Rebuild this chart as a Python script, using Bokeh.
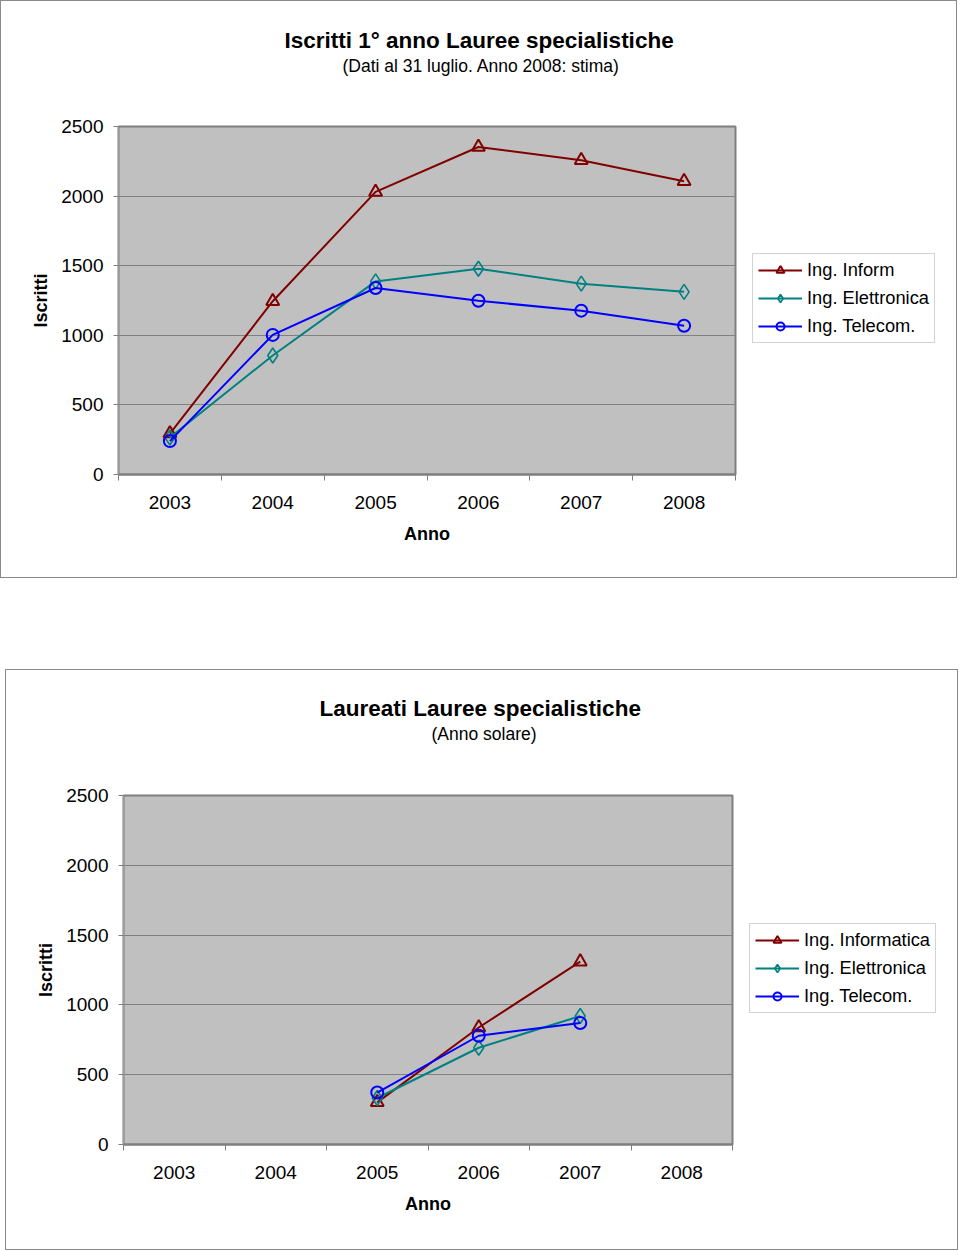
from bokeh.plotting import figure
from bokeh.models import Range1d, FixedTicker, Spacer, Title, Legend
from bokeh.layouts import column, row
from bokeh.embed import file_html
from bokeh.resources import INLINE

# ---------------- data ----------------
years = [2003, 2004, 2005, 2006, 2007, 2008]
y_ticks = [0, 500, 1000, 1500, 2000, 2500]

series_names_1 = ["Ing. Inform", "Ing. Elettronica", "Ing. Telecom."]
iscritti_inform = [294, 1245, 2030, 2353, 2258, 2106]
iscritti_elettronica = [266, 855, 1387, 1478, 1371, 1312]
iscritti_telecom = [240, 1003, 1340, 1248, 1177, 1069]

nan = float("nan")
series_names_2 = ["Ing. Informatica", "Ing. Elettronica", "Ing. Telecom."]
laureati_inform = [nan, nan, 302, 838, 1310, nan]
laureati_elettronica = [nan, nan, 333, 693, 920, nan]
laureati_telecom = [nan, nan, 372, 779, 870, nan]

title_1 = "Iscritti 1° anno Lauree specialistiche"
subtitle_1 = "(Dati al 31 luglio. Anno 2008: stima)"
title_2 = "Laureati  Lauree specialistiche"
subtitle_2 = "(Anno solare)"
x_label = "Anno"
y_label = "Iscritti"

colors = ["#800000", "#008080", "#0000ff"]
markers = ["triangle", "diamond", "circle"]
marker_sizes = [13, 15, 12]
marker_widths = [2, 1.6, 2]

FONT = "Liberation Sans"


def make_chart(title, subtitle, names, values, box, frame, title_left, subtitle_left,
               spacer_h, legend_px):
    # box: (x, y, w, h) of the outer bordered box in page px; frame: (L, R, T, B) page px
    bx, by, bw, bh = box
    L, R, T, B = frame
    ox, oy = bx + 1, by + 1          # content origin inside 1px border
    cw, ch = bw - 2, bh - 2
    main_w = (R - ox) + 10
    x0, x1 = years[0] - 0.5, years[-1] + 0.5
    p = figure(width=main_w, height=ch, output_backend="svg", toolbar_location=None,
               x_range=Range1d(x0, x1), y_range=Range1d(y_ticks[0], y_ticks[-1]),
               min_border_left=L - ox, min_border_right=main_w - (R - ox),
               min_border_top=T - oy, min_border_bottom=ch - (B - oy))
    p.background_fill_color = "#c0c0c0"
    p.border_fill_color = "white"
    p.outline_line_color = "#7f7f7f"
    p.outline_line_width = 2

    # titles: invisible spacer closest to frame, then subtitle, then main title
    p.add_layout(Title(text=" ", text_font_size="1px", standoff=spacer_h), "above")
    p.add_layout(Title(text=subtitle, align="left", offset=subtitle_left - L, standoff=2,
                       text_font=FONT, text_font_size="17.5px", text_font_style="normal",
                       text_color="black"), "above")
    p.title.text = title
    p.title.align = "left"
    p.title.offset = title_left - L
    p.title.standoff = 0
    p.title.text_font = FONT
    p.title.text_font_size = "22.5px"
    p.title.text_font_style = "bold"
    p.title.text_color = "black"

    # grid
    p.xgrid.visible = False
    p.ygrid.grid_line_color = "#808080"
    p.ygrid.grid_line_width = 1
    p.ygrid.ticker = FixedTicker(ticks=y_ticks)

    # x axis
    xa = p.xaxis[0]
    xa.ticker = FixedTicker(ticks=years, minor_ticks=[y - 0.5 for y in years] + [years[-1] + 0.5])
    xa.major_tick_out = 0
    xa.major_tick_in = 0
    xa.minor_tick_out = 6
    xa.minor_tick_in = 0
    xa.minor_tick_line_color = "#808080"
    xa.axis_line_color = "#7f7f7f"
    xa.axis_line_width = 2
    xa.major_label_text_font = FONT
    xa.major_label_text_font_size = "19px"
    xa.major_label_text_color = "black"
    xa.major_label_standoff = 15
    xa.axis_label = x_label
    xa.axis_label_text_font = FONT
    xa.axis_label_text_font_size = "18px"
    xa.axis_label_text_font_style = "bold"
    xa.axis_label_text_color = "black"
    xa.axis_label_standoff = 12

    # y axis
    ya = p.yaxis[0]
    ya.ticker = FixedTicker(ticks=y_ticks)
    ya.minor_tick_line_color = None
    ya.major_tick_out = 5
    ya.major_tick_in = 0
    ya.major_tick_line_color = "#808080"
    ya.axis_line_color = "#9a9a9a"
    ya.axis_line_width = 1
    ya.major_label_text_font = FONT
    ya.major_label_text_font_size = "19px"
    ya.major_label_text_color = "black"
    ya.major_label_standoff = 10
    ya.axis_label = y_label
    ya.axis_label_text_font = FONT
    ya.axis_label_text_font_size = "18px"
    ya.axis_label_text_font_style = "bold"
    ya.axis_label_text_color = "black"
    ya.axis_label_standoff = 7

    for vals, c, m, s, w in zip(values, colors, markers, marker_sizes, marker_widths):
        p.line(years, vals, line_color=c, line_width=2)
        p.scatter(years, vals, marker=m, size=s, line_color=c, line_width=w, fill_alpha=0)

    # legend panel (separate canvas to the right of the plot, inside the same box);
    # its frame is aligned with the plot frame by the row layout.
    leg_w = cw - main_w
    q = figure(width=leg_w, height=ch, output_backend="svg", toolbar_location=None,
               x_range=Range1d(0, 1), y_range=Range1d(0, 1),
               x_axis_location=None, y_axis_location=None,
               min_border_left=0, min_border_right=0, min_border_top=0, min_border_bottom=0)
    q.grid.visible = False
    q.outline_line_color = None
    q.background_fill_color = "white"
    q.border_fill_color = "white"
    items = []
    for name, vals, c, m, s, w in zip(names, values, colors, markers, marker_sizes, marker_widths):
        # same series, drawn outside this panel's visible range: only the legend shows
        r1 = q.line(years, vals, line_color=c, line_width=2)
        r2 = q.scatter(years, vals, marker=m, size=s, line_color=c, line_width=w, fill_alpha=0)
        items.append((name, [r1, r2]))
    q_left = ox + main_w
    lg = Legend(items=items, location=(legend_px[0] - q_left, B - legend_px[1]))
    lg.label_text_font = FONT
    lg.label_text_font_size = "18.3px"
    lg.label_text_color = "black"
    lg.glyph_width = 44
    lg.glyph_height = 20
    lg.label_height = 20
    lg.spacing = 6
    lg.padding = 5
    lg.margin = 0
    lg.label_standoff = 5
    lg.border_line_color = "#a8a8a8"
    lg.border_line_width = 1
    lg.background_fill_color = "white"
    lg.background_fill_alpha = 1
    q.add_layout(lg, "center")

    r = row(p, q, spacing=0)
    r.styles = {"border": "1px solid #8a8a8a"}
    return r


c1 = make_chart(title_1, subtitle_1, series_names_1,
                [iscritti_inform, iscritti_elettronica, iscritti_telecom],
                box=(0, 0, 957, 578), frame=(118, 735, 126, 474),
                title_left=284, subtitle_left=342, spacer_h=47, legend_px=(752, 343))

c2 = make_chart(title_2, subtitle_2, series_names_2,
                [laureati_inform, laureati_elettronica, laureati_telecom],
                box=(5, 669, 953, 581), frame=(123, 732, 795, 1144),
                title_left=319, subtitle_left=431, spacer_h=48, legend_px=(749, 1013))

layout = column(c1, Spacer(height=91), row(Spacer(width=5), c2))
open("out.html", "w").write(file_html(layout, INLINE))
